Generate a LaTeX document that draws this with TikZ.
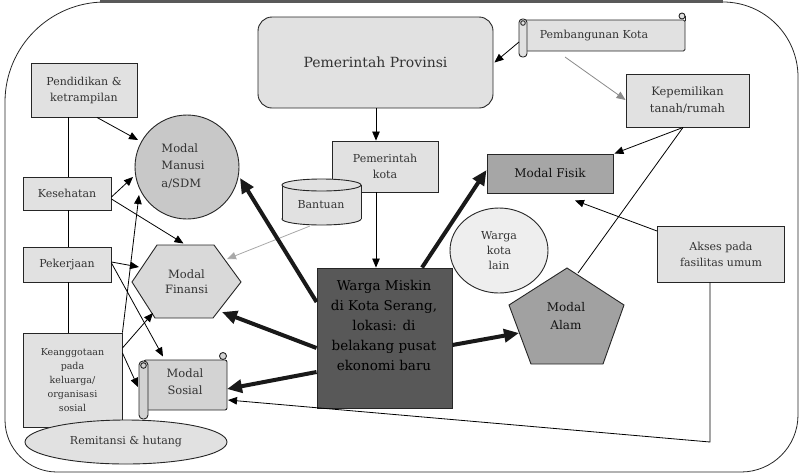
\documentclass[tikz,border=0pt]{standalone}
\usepackage{fontspec}
\setmainfont{DejaVu Serif}
\usetikzlibrary{arrows.meta,calc,shapes.geometric}

\definecolor{ink}{HTML}{333333}
\definecolor{paleg}{HTML}{E1E1E1}
\definecolor{midg}{HTML}{C8C8C8}
\definecolor{hexg}{HTML}{D9D9D9}
\definecolor{scrollg}{HTML}{D3D3D3}
\definecolor{darkg}{HTML}{A6A6A6}
\definecolor{coreg}{HTML}{585858}
\definecolor{coreink}{rgb}{0.08,0.08,0.08}
\definecolor{fogg}{HTML}{EEEEEE}
\definecolor{edge}{HTML}{262626}
\definecolor{softline}{HTML}{8A8A8A}
\definecolor{faintline}{HTML}{A8A8A8}

\tikzset{
  outline/.style={draw=edge, line width=0.9pt},
  base/.style={outline, text=ink, align=center, inner sep=0pt,
    font=\fontsize{11}{16}\selectfont},
  rectbox/.style={base, rectangle, fill=paleg},
  tag/.style={align=center, text=ink, inner sep=0pt,
    font=\fontsize{11}{16}\selectfont},
  link/.style={draw=black, line width=0.8pt, -{Triangle[length=9pt,width=7.5pt]}},
  bare/.style={draw=black, line width=0.8pt},
  greylink/.style={draw=softline, line width=0.8pt, -{Triangle[length=9pt,width=7.5pt]}},
  faintlink/.style={draw=faintline, line width=0.8pt, -{Triangle[length=9pt,width=7.5pt]}},
  heavy/.style={draw=black!90, line width=4pt, -{Triangle[length=15pt,width=13pt]}}
}

\begin{document}
\begin{tikzpicture}[x=1pt,y=-1pt]
\useasboundingbox (0,0) rectangle (800,475);

% ---------- outer frame ----------
\draw[line width=0.8pt, draw=black!85] (5,240)
  {[rounded corners=100pt] -- (5,2) -- (400,2)}
  {[rounded corners=75pt] -- (798,2) -- (798,240)}
  {[rounded corners=57pt] -- (798,472) -- (400,472)}
  {[rounded corners=52pt] -- (5,472) -- cycle};
\draw[line width=2.5pt, draw=black!65] (100,1.3) -- (723,1.3);

% ---------- left column ----------
\node[rectbox, minimum width=106pt, minimum height=54pt] (pend) at (84,90)
  {Pendidikan \&\\ketrampilan};
\node[rectbox, minimum width=88pt, minimum height=33pt] (kes) at (67,193.5) {Kesehatan};
\node[rectbox, minimum width=88pt, minimum height=35pt] (pek) at (67,264.5) {Pekerjaan};
\node[rectbox, minimum width=99pt, minimum height=94pt,
  font=\fontsize{9.5}{14}\selectfont] (kea) at (72.5,380)
  {Keanggotaan\\pada\\keluarga/\\organisasi\\sosial};

% ---------- capitals ----------
\node[base, circle, fill=midg, minimum size=104pt] (mm) at (187,167) {};
\node[tag, font=\fontsize{11.5}{17.5}\selectfont, align=left] (mmtext) at (183,166)
  {Modal\\Manusi\\a/SDM};

% financial capital (hexagon)
\draw[outline, fill=hexg] (132,282) -- (157,245) -- (214,245) -- (241,282)
  -- (213,318) -- (155,318) -- cycle;
\node[tag, font=\fontsize{11.5}{15}\selectfont] (fin) at (186.5,281.5) {Modal\\Finansi};

% social capital (scroll)
\draw[outline, fill=scrollg, rounded corners=2pt] (144,360) rectangle (227,410);
\draw[outline, fill=scrollg] (223,356) circle[radius=3.5];
\draw[outline, fill=scrollg, rounded corners=4pt] (139,361) rectangle (148,419);
\draw[outline, fill=scrollg] (143.5,365.5) circle[radius=2.8];
\node[tag, font=\fontsize{11.5}{17}\selectfont] (sos) at (185,381.5) {Modal\\Sosial};

\node[base, ellipse, fill=paleg, minimum width=202pt, minimum height=44pt] (rem)
  at (126,442) {Remitansi \& hutang};

% ---------- government ----------
\node[rectbox, rounded corners=14pt, minimum width=235pt, minimum height=91pt,
  font=\fontsize{14}{18}\selectfont] (prov) at (375.5,62.5) {Pemerintah Provinsi};
\node[rectbox, minimum width=106pt, minimum height=51pt] (kota) at (385,166.5)
  {Pemerintah\\kota};

% aid (cylinder)
\draw[outline, fill=paleg] (321.5,219) ellipse[x radius=39.5, y radius=6];
\fill[paleg] (282,185) rectangle (361,219);
\draw[outline] (282,185) -- (282,219) (361,185) -- (361,219);
\draw[outline, fill=paleg] (321.5,185) ellipse[x radius=39.5, y radius=6];
\node[tag] (ban) at (321,205) {Bantuan};

% city development (scroll)
\draw[outline, fill=paleg, rounded corners=1.5pt] (523,20) rectangle (685,51);
\draw[outline, fill=paleg] (682,16) circle[radius=3];
\draw[outline] (685,16) -- (685,21);
\draw[outline, fill=paleg, rounded corners=3.5pt] (519,19) rectangle (527,57);
\draw[outline, fill=paleg] (523,23) circle[radius=2.3];
\node[tag] (pk) at (594,35.5) {Pembangunan Kota};

\node[rectbox, minimum width=123pt, minimum height=53pt,
  font=\fontsize{11.5}{17}\selectfont] (kep) at (687.5,100.5)
  {Kepemilikan\\tanah/rumah};
\node[rectbox, fill=darkg, text=coreink, minimum width=126pt, minimum height=39pt,
  font=\fontsize{12}{16}\selectfont] (fisik) at (550,173.5) {Modal Fisik};
\node[rectbox, minimum width=127pt, minimum height=56pt] (akses) at (721,254)
  {Akses pada\\fasilitas umum};

\node[base, ellipse, fill=fogg, minimum width=98pt, minimum height=85pt,
  font=\fontsize{11}{15}\selectfont] (lain) at (499,250.5) {Warga\\kota\\lain};

% natural capital (pentagon)
\draw[outline, fill=darkg!97!black] (567,268) -- (624,305) -- (603,364) -- (531,364)
  -- (509,305) -- cycle;
\node[tag, text=coreink, font=\fontsize{12}{18}\selectfont] (alam) at (566,316) {Modal\\Alam};

% ---------- core household ----------
\node[outline, rectangle, fill=coreg, minimum width=135pt, minimum height=140pt]
  (wm) at (384.5,338) {};
\node[align=center, inner sep=0pt, text=black, font=\fontsize{13.5}{20}\selectfont] (wmtext) at (384,325)
  {Warga Miskin\\di Kota Serang,\\lokasi: di\\belakang pusat\\ekonomi baru};

% ---------- connectors ----------
\draw[bare] (pend.south -| 68,0) -- (kes.north -| 68,0);
\draw[bare] (kes.south -| 68,0) -- (pek.north -| 68,0);
\draw[bare] (pek.south -| 68,0) -- (kea.north -| 68,0);

\draw[link] (pend.south -| 97,0) -- ($(mm)+(-49,-27)$);
\draw[link] (kes.east |- 0,197) -- ($(mm)+(-54,10)$);
\draw[link] (kes.east |- 0,199) -- ($(fin)+(-3,-38)$);
\draw[link] (kea.north east) -- ($(mm)+(-48,28)$);
\draw[link] (pek.east |- 0,262) -- ($(fin)+(-47.5,-14.5)$);
\draw[link] (pek.east |- 0,263) -- ($(sos)+(-22,-25)$);
\draw[link] (kea.east |- 0,348) -- ($(fin)+(-33.5,31.5)$);
\draw[link] (kea.east |- 0,353) -- ($(sos)+(-47,5.5)$);

\draw[link] (prov.south -| 376,0) -- (kota.north -| 376,0);
\draw[link] ($(pk)+(-75,6.5)$) -- ($(prov.east)+(1,0)$);
\draw[greylink] ($(pk)+(-29,21.5)$) -- (kep.west |- 0,100);
\draw[link] (kep.south -| 683,0) -- ($(fisik.north east)+(1,0)$);
\draw[bare] (kep.south -| 683,0) -- ($(alam)+(12,-43)$);
\draw[link] (akses.west |- 0,231) -- ($(fisik.south)+(25,7)$);
\coordinate (turn) at (710,442);
\draw[link] (akses.south -| 710,0) -- (turn) -- ($(sos)+(43,18.5)$);
\draw[link] (kota.south -| 376,0) -- (wm.north -| 376,0);
\draw[faintlink] ($(ban)+(-11,21)$) -- ($(fin)+(40.5,-22.5)$);

\draw[heavy] (wm.west |- 0,302) -- ($(mm)+(53,11)$);
\draw[heavy] (wm.west |- 0,348) -- ($(fin)+(35.5,30.5)$);
\draw[heavy] (wm.west |- 0,372) -- ($(sos)+(42,7.5)$);
\draw[heavy] (wm.north -| 422,0) -- (fisik.west |- 0,170);
\draw[heavy] (wm.east |- 0,345) -- ($(alam)+(-47,17)$);
\end{tikzpicture}
\end{document}
